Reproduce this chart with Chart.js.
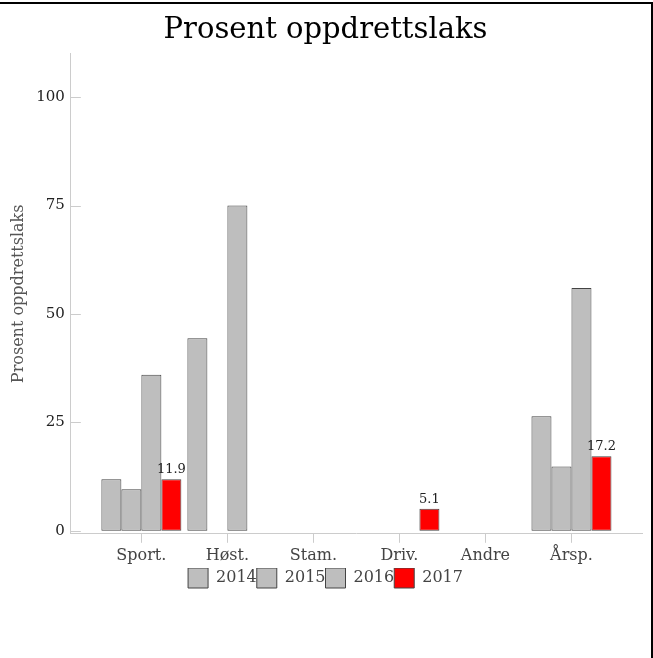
<!DOCTYPE html>
<html>
<head>
<meta charset="utf-8">
<script src="https://cdn.jsdelivr.net/npm/chart.js@4.4.0/dist/chart.umd.min.js"></script>
<style>
  html, body { margin: 0; padding: 0; background: #fff; }
  #wrap { position: relative; width: 653px; height: 658px; overflow: hidden; }
  #wrap canvas { position: absolute; left: 0; top: 0; }
  .frameTop { position: absolute; left: 0; top: 2px; width: 653px; height: 2px; background: #000; }
  .frameRight { position: absolute; left: 651px; top: 2px; width: 2px; height: 656px; background: #000; }
</style>
</head>
<body>
<div id="wrap">
  <canvas id="chart" width="653" height="658"></canvas>
  <div class="frameTop"></div>
  <div class="frameRight"></div>
</div>
<script>
// data
const categories = ['Sport.', 'Høst.', 'Stam.', 'Driv.', 'Andre', 'Årsp.'];
const years = ['2014', '2015', '2016', '2017'];
const values2014 = [11.9, 44.4, null, null, null, 26.4];
const values2015 = [9.6, null, null, null, null, 14.8];
const values2016 = [36.0, 75.0, null, null, null, 56.0];
const values2017 = [11.9, null, null, 5.1, null, 17.2];
const yTicks = [0, 25, 50, 75, 100];

const serif = "'DejaVu Serif', serif";
const grayFill = '#bebebe';
const barBorder = '#444444';
const axisGray = '#cccccc';

const toPoints = (arr) => arr.map((v, i) => ({ x: i, y: v }));

// inward ticks on y axis + value labels on 2017 bars
const extras = {
  id: 'extras',
  afterDraw(chart) {
    const ctx = chart.ctx;
    const y = chart.scales.y;
    const left = chart.chartArea.left;
    ctx.save();
    ctx.strokeStyle = axisGray;
    ctx.lineWidth = 1;
    yTicks.forEach((t) => {
      const py = Math.round(y.getPixelForValue(t)) + 0.5;
      ctx.beginPath();
      ctx.moveTo(left, py);
      ctx.lineTo(left + 10, py);
      ctx.stroke();
    });

    const meta = chart.getDatasetMeta(3);
    ctx.font = '13px ' + serif;
    ctx.fillStyle = '#222';
    ctx.textAlign = 'center';
    ctx.textBaseline = 'bottom';
    meta.data.forEach((bar, i) => {
      const v = values2017[i];
      if (v === null) return;
      ctx.fillText(v.toFixed(1), bar.x, bar.y - 3);
    });
    ctx.restore();
  }
};

const seriesColors = [grayFill, grayFill, grayFill, '#ff0000'];
const seriesValues = [values2014, values2015, values2016, values2017];

new Chart(document.getElementById('chart'), {
  type: 'bar',
  data: {
    datasets: years.map((yr, k) => ({
      label: yr,
      data: toPoints(seriesValues[k]),
      backgroundColor: seriesColors[k],
      borderColor: barBorder,
      borderWidth: 1,
      borderSkipped: false,
      categoryPercentage: 0.93,
      barPercentage: 1.0
    }))
  },
  options: {
    responsive: false,
    animation: false,
    layout: { padding: { top: 9, right: 11, bottom: 60, left: 9 } },
    plugins: {
      title: {
        display: true,
        text: 'Prosent oppdrettslaks',
        color: '#000',
        font: { family: serif, size: 29, weight: 'normal' },
        padding: { top: 4, bottom: 6 }
      },
      legend: {
        position: 'bottom',
        labels: {
          boxWidth: 20,
          boxHeight: 20,
          padding: 0,
          color: '#444',
          font: { family: serif, size: 16 }
        }
      },
      tooltip: { enabled: false }
    },
    scales: {
      x: {
        type: 'linear',
        min: -0.82,
        max: 5.82,
        offset: false,
        afterBuildTicks: (scale) => { scale.ticks = categories.map((c, i) => ({ value: i })); },
        ticks: {
          callback: (v) => categories[v],
          color: '#444',
          font: { family: serif, size: 16 },
          padding: 3,
          maxRotation: 0,
          autoSkip: false
        },
        grid: { offset: false, drawOnChartArea: false, color: axisGray, tickLength: 9 },
        border: { color: axisGray }
      },
      y: {
        min: -0.7,
        max: 110,
        afterBuildTicks: (scale) => { scale.ticks = yTicks.map((v) => ({ value: v })); },
        ticks: {
          color: '#222',
          font: { family: serif, size: 15 },
          padding: 6
        },
        grid: { display: false, drawTicks: false },
        border: { color: axisGray },
        title: {
          display: true,
          text: 'Prosent oppdrettslaks',
          color: '#555',
          font: { family: serif, size: 16 },
          padding: { top: 0, bottom: 2 }
        }
      }
    }
  },
  plugins: [extras]
});
</script>
</body>
</html>
